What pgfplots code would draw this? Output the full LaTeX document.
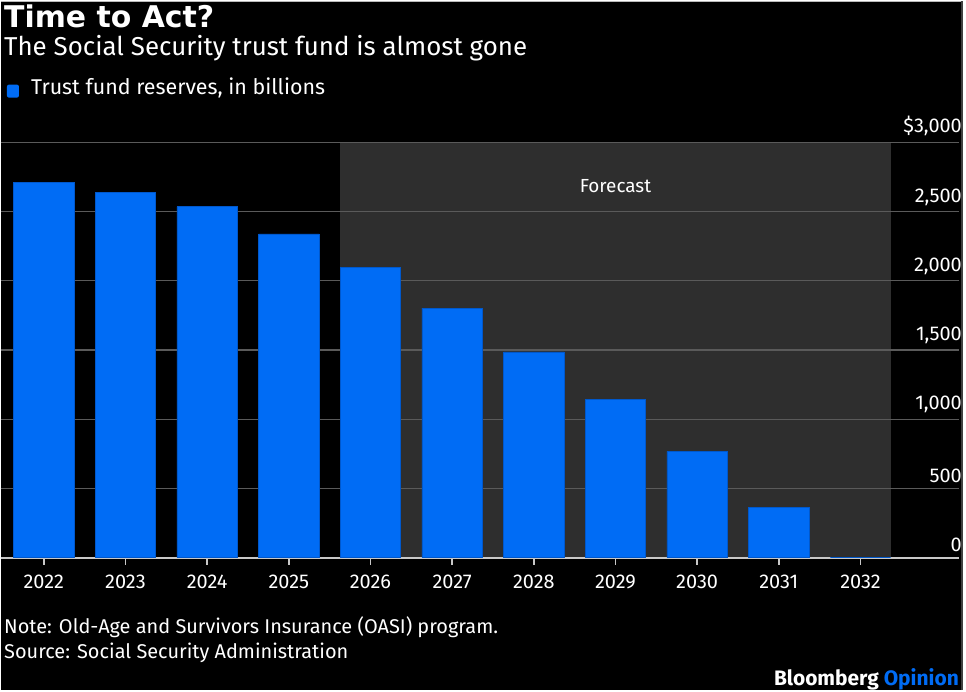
\documentclass[border=0pt]{standalone}
\usepackage{fontspec}
\setmainfont{Fira Sans}
\newfontfamily\titlefont{DejaVu Sans}
\usepackage{pgfplots}
\pgfplotsset{compat=1.18}

\definecolor{bbblue}{HTML}{006CF5}
\definecolor{bbedge}{HTML}{0058CC}
\definecolor{shade}{HTML}{2E2E2E}
\definecolor{gridgray}{HTML}{5A5A5A}
\definecolor{axisgray}{HTML}{C8C8C8}

% a layer under everything for the black canvas
\pgfdeclarelayer{canvas}
\pgfplotsset{
  layers/withcanvas/.define layer set={
    canvas,axis background,axis grid,axis ticks,axis lines,
    axis tick labels,pre main,main,axis descriptions,axis foreground
  }{},
}

% Trust fund reserves (billions of dollars), 2022--2032
\pgfplotstableread{
idx value
0  2710
1  2641
2  2537
3  2339
4  2096
5  1802
6  1486
7  1146
8  768
9  364
10 0
}\reserves

\begin{document}
\begin{tikzpicture}
\begin{axis}[
  set layers=withcanvas,
  scale only axis, width=962pt, height=417pt,
  xmin=-0.524, xmax=11.207,
  ymin=0, ymax=3000,
  axis x line*=bottom,
  axis y line*=right,
  x axis line style={draw=axisgray, line width=2pt},
  y axis line style={draw=none},
  xtick={0,...,10},
  xticklabels={2022,2023,2024,2025,2026,2027,2028,2029,2030,2031,2032},
  xtick style={draw=axisgray, line width=1.5pt},
  tick align=outside,
  major tick length=7pt,
  xticklabel style={text=white, font=\fontsize{20}{24}\selectfont, yshift=-7pt},
  ytick={0,500,1000,1500,2000,2500,3000},
  yticklabels={0,500,{1,000},{1,500},{2,000},{2,500},{\$3,000}},
  ytick style={draw=none},
  yticklabel style={text=white, font=\fontsize{20}{24}\selectfont, anchor=south east, xshift=-4pt, yshift=6pt, inner sep=0pt},
  ymajorgrids,
  major grid style={draw=gridgray, line width=1.3pt},
  clip=false,
]
% forecast period shading
\addplot[draw=none, fill=shade, on layer=axis background]
  coordinates {(3.63,0) (10.37,0) (10.37,3000) (3.63,3000)} -- cycle;
\addplot[ybar, bar width=0.74, fill=bbblue, draw=bbedge, line width=0.6pt]
  table[x=idx, y=value] {\reserves};
\node[text=white, font=\fontsize{19}{23}\selectfont, anchor=base] at (axis cs:7,2640) {Forecast};
\coordinate (O) at (rel axis cs:0,0);
\end{axis}

% page furniture, laid out from the lower-left corner of the plot area
\begin{scope}[shift={(O)}, yshift=-133pt, x=1pt, y=1pt]
\begin{pgfonlayer}{canvas}
\fill[black] (0,0) rectangle (966,692);
\draw[gray!55, line width=1.5pt] (0,691.25) -- (966,691.25);
\draw[black!75, line width=2pt] (965,0) -- (965,692);
\end{pgfonlayer}

% heading
\node[anchor=base west, inner sep=0, text=white, font=\fontsize{30}{34}\selectfont\titlefont\bfseries] at (3,665) {Time to Act?};
\node[anchor=base west, inner sep=0, text=white, font=\fontsize{26}{30}\selectfont] at (3,637) {The Social Security trust fund is almost gone};

% legend
\fill[bbblue, rounded corners=2pt] (6,595) rectangle (18,608);
\node[anchor=base west, inner sep=0, text=white, font=\fontsize{21.5}{25}\selectfont] at (30,598) {Trust fund reserves, in billions};

% notes
\node[anchor=base west, inner sep=0, text=white, font=\fontsize{20}{24}\selectfont] at (3,57) {Note: Old-Age and Survivors Insurance (OASI) program.};
\node[anchor=base west, inner sep=0, text=white, font=\fontsize{20}{24}\selectfont] at (3,32) {Source: Social Security Administration};
\node[anchor=base east, inner sep=0, font=\fontsize{21}{25}\selectfont\bfseries] at (962,5) {\textcolor{white}{Bloomberg} \textcolor{bbblue}{Opinion}};
\end{scope}
\end{tikzpicture}
\end{document}
